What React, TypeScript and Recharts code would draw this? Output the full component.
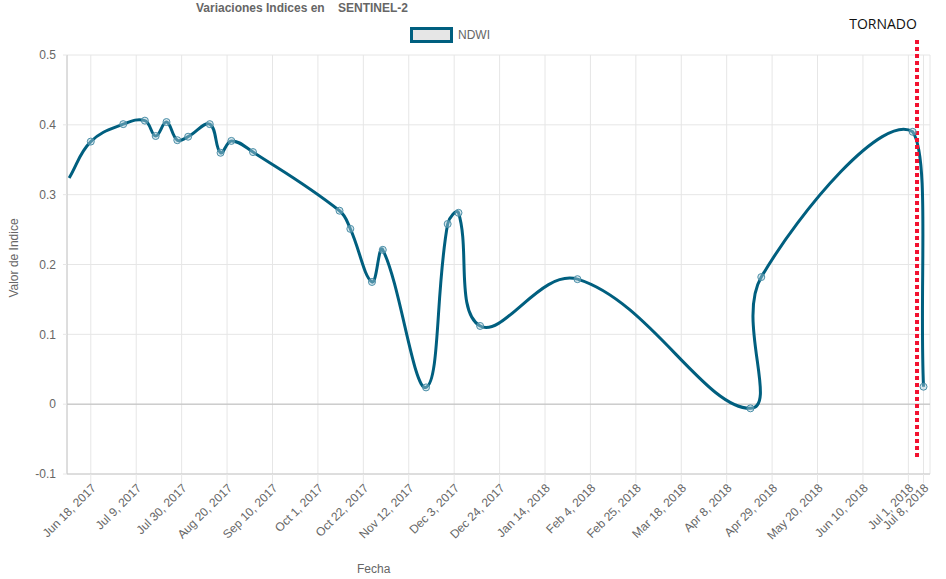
import React from 'react';
import { LineChart, Line, XAxis, YAxis, CartesianGrid, ReferenceLine } from 'recharts';

const dates = [
  '2017-06-08', '2017-06-18', '2017-07-03', '2017-07-13', '2017-07-18', '2017-07-23', '2017-07-28',
  '2017-08-02', '2017-08-12', '2017-08-17', '2017-08-22', '2017-09-01', '2017-10-11', '2017-10-16',
  '2017-10-26', '2017-10-31', '2017-11-20', '2017-11-30', '2017-12-05', '2017-12-15', '2018-01-29',
  '2018-04-19', '2018-04-24', '2018-07-03', '2018-07-08',
];
const ndwi = [
  0.324, 0.376, 0.401, 0.406, 0.384, 0.404, 0.378,
  0.383, 0.401, 0.360, 0.377, 0.361, 0.277, 0.251,
  0.175, 0.221, 0.024, 0.258, 0.274, 0.112, 0.179,
  -0.006, 0.182, 0.390, 0.025,
];
const xTickDates = [
  '2017-06-18', '2017-07-09', '2017-07-30', '2017-08-20', '2017-09-10', '2017-10-01', '2017-10-22',
  '2017-11-12', '2017-12-03', '2017-12-24', '2018-01-14', '2018-02-04', '2018-02-25', '2018-03-18',
  '2018-04-08', '2018-04-29', '2018-05-20', '2018-06-10', '2018-07-01', '2018-07-08',
];
const yTicks = [-0.1, 0, 0.1, 0.2, 0.3, 0.4, 0.5];
const xDomainDates = ['2017-06-07', '2018-07-11'];
const tornadoDate = '2018-07-05';

const MONTHS = ['Jan', 'Feb', 'Mar', 'Apr', 'May', 'Jun', 'Jul', 'Aug', 'Sep', 'Oct', 'Nov', 'Dec'];
const toTs = (s: string) => {
  const [y, m, d] = s.split('-').map(Number);
  return Date.UTC(y, m - 1, d);
};
const fmtDate = (ts: number) => {
  const d = new Date(ts);
  return `${MONTHS[d.getUTCMonth()]} ${d.getUTCDate()}, ${d.getUTCFullYear()}`;
};

const data = dates.map((d, i) => ({ t: toTs(d), v: ndwi[i] }));
const xTicks = xTickDates.map(toTs);
const xDomain = xDomainDates.map(toTs);

const FONT = '"Helvetica Neue", Helvetica, Arial, "Liberation Sans", sans-serif';
const LINE_COLOR = '#005f7f';

const CHART_W = 946;
const CHART_H = 579;
const MARGIN = { top: 55, right: 16, bottom: 0, left: 0 };
const Y_AXIS_W = 67;
const X_AXIS_H = 105;
const AREA = {
  left: MARGIN.left + Y_AXIS_W,
  right: CHART_W - MARGIN.right,
  top: MARGIN.top,
  bottom: CHART_H - MARGIN.bottom - X_AXIS_H,
};

const clamp = (v: number, lo: number, hi: number) => Math.max(lo, Math.min(hi, v));

// Chart.js-like spline (tension 0.4) with control points capped to chart area
function chartjsCurve(tension: number, area: { left: number; right: number; top: number; bottom: number }) {
  return (context: any) => {
    let pts: number[][] = [];
    return {
      areaStart() {},
      areaEnd() {},
      lineStart() { pts = []; },
      lineEnd() {
        const n = pts.length;
        if (!n) return;
        context.moveTo(pts[0][0], pts[0][1]);
        const cps = pts.map((p, i) => {
          const prev = pts[i - 1] || p;
          const next = pts[i + 1] || p;
          const d01 = Math.hypot(p[0] - prev[0], p[1] - prev[1]);
          const d12 = Math.hypot(next[0] - p[0], next[1] - p[1]);
          let s01 = d01 / (d01 + d12);
          let s12 = d12 / (d01 + d12);
          if (isNaN(s01)) s01 = 0;
          if (isNaN(s12)) s12 = 0;
          const fa = tension * s01;
          const fb = tension * s12;
          return {
            px: clamp(p[0] - fa * (next[0] - prev[0]), area.left, area.right),
            py: clamp(p[1] - fa * (next[1] - prev[1]), area.top, area.bottom),
            nx: clamp(p[0] + fb * (next[0] - prev[0]), area.left, area.right),
            ny: clamp(p[1] + fb * (next[1] - prev[1]), area.top, area.bottom),
          };
        });
        for (let i = 1; i < n; i++) {
          context.bezierCurveTo(cps[i - 1].nx, cps[i - 1].ny, cps[i].px, cps[i].py, pts[i][0], pts[i][1]);
        }
      },
      point(x: number, y: number) { pts.push([+x, +y]); },
    };
  };
}
const curve = chartjsCurve(0.4, AREA);

const XTick = (props: any) => {
  const { x, y, payload } = props;
  const ax = x + 3;
  const ay = y + 1;
  return (
    <text
      x={ax}
      y={ay}
      transform={`rotate(-45, ${ax}, ${ay})`}
      textAnchor="end"
      dominantBaseline="central"
      fill="#666"
      fontSize={12}
      fontFamily={FONT}
    >
      {fmtDate(payload.value)}
    </text>
  );
};

const renderDot = (props: any) => {
  const { cx, cy, index } = props;
  if (index === 0) return <g key={`d${index}`} />;
  return (
    <circle
      key={`d${index}`}
      cx={cx}
      cy={cy}
      r={3.5}
      fill="rgba(170,205,218,0.45)"
      stroke="#4a8ea7"
      strokeWidth={1}
    />
  );
};

const TornadoShape = (props: any) => {
  const { x1, y1, y2 } = props;
  const top = Math.min(y1, y2);
  const bottom = Math.max(y1, y2);
  return (
    <g>
      <line x1={x1} x2={x1} y1={top - 15} y2={bottom - 17} stroke="#f2112f" strokeWidth={4} strokeDasharray="4 3" />
      <text x={x1 - 34} y={top - 26} textAnchor="middle" fontSize={14} fill="#111" fontFamily='"Open Sans", "Noto Sans", sans-serif'>
        TORNADO
      </text>
    </g>
  );
};

export default function App() {
  return (
    <div style={{ position: 'absolute', left: 0, top: 0, width: CHART_W, height: CHART_H, background: '#fff', fontFamily: FONT }}>
      <LineChart width={CHART_W} height={CHART_H} data={data} margin={MARGIN}>
        <CartesianGrid stroke="#e6e6e6" strokeWidth={1} />
        <XAxis
          dataKey="t"
          type="number"
          domain={xDomain}
          ticks={xTicks}
          allowDataOverflow
          height={X_AXIS_H}
          tickSize={9}
          tickMargin={2}
          tickLine={{ stroke: '#e6e6e6' }}
          axisLine={{ stroke: '#c8c8c8' }}
          tick={<XTick />}
          interval={0}
        />
        <YAxis
          type="number"
          domain={[-0.1, 0.5]}
          ticks={yTicks}
          width={Y_AXIS_W}
          tickSize={4}
          tickMargin={7}
          tickLine={{ stroke: '#e6e6e6' }}
          axisLine={{ stroke: '#c8c8c8' }}
          tick={{ fill: '#666', fontSize: 12, fontFamily: FONT }}
          interval={0}
        />
        <ReferenceLine y={0} stroke="#bdbdbd" strokeWidth={1} />
        <Line
          dataKey="v"
          type={curve as any}
          stroke={LINE_COLOR}
          strokeWidth={3}
          dot={renderDot}
          activeDot={false}
          isAnimationActive={false}
          name="NDWI"
        />
        <ReferenceLine x={toTs(tornadoDate)} ifOverflow="visible" shape={<TornadoShape />} />
      </LineChart>

      <div style={{ position: 'absolute', left: 0, top: 1, width: 604, textAlign: 'center', fontSize: 12, fontWeight: 'bold', color: '#666', whiteSpace: 'pre' }}>
        {'Variaciones Indices en    SENTINEL-2'}
      </div>

      <div style={{ position: 'absolute', left: 410, top: 27, display: 'flex', alignItems: 'center' }}>
        <div style={{ width: 37, height: 10, background: '#e6e6e6', border: `3px solid ${LINE_COLOR}` }} />
        <span style={{ marginLeft: 5, fontSize: 12, color: '#666' }}>NDWI</span>
      </div>

      <div style={{ position: 'absolute', left: 357, top: 562, fontSize: 12, color: '#666' }}>Fecha</div>

      <svg style={{ position: 'absolute', left: 0, top: 0, pointerEvents: 'none' }} width={40} height={579}>
        <text
          x={18}
          y={258}
          transform="rotate(-90, 18, 258)"
          textAnchor="middle"
          fontSize={12}
          fill="#666"
          fontFamily={FONT}
        >
          Valor de Indice
        </text>
      </svg>
    </div>
  );
}
